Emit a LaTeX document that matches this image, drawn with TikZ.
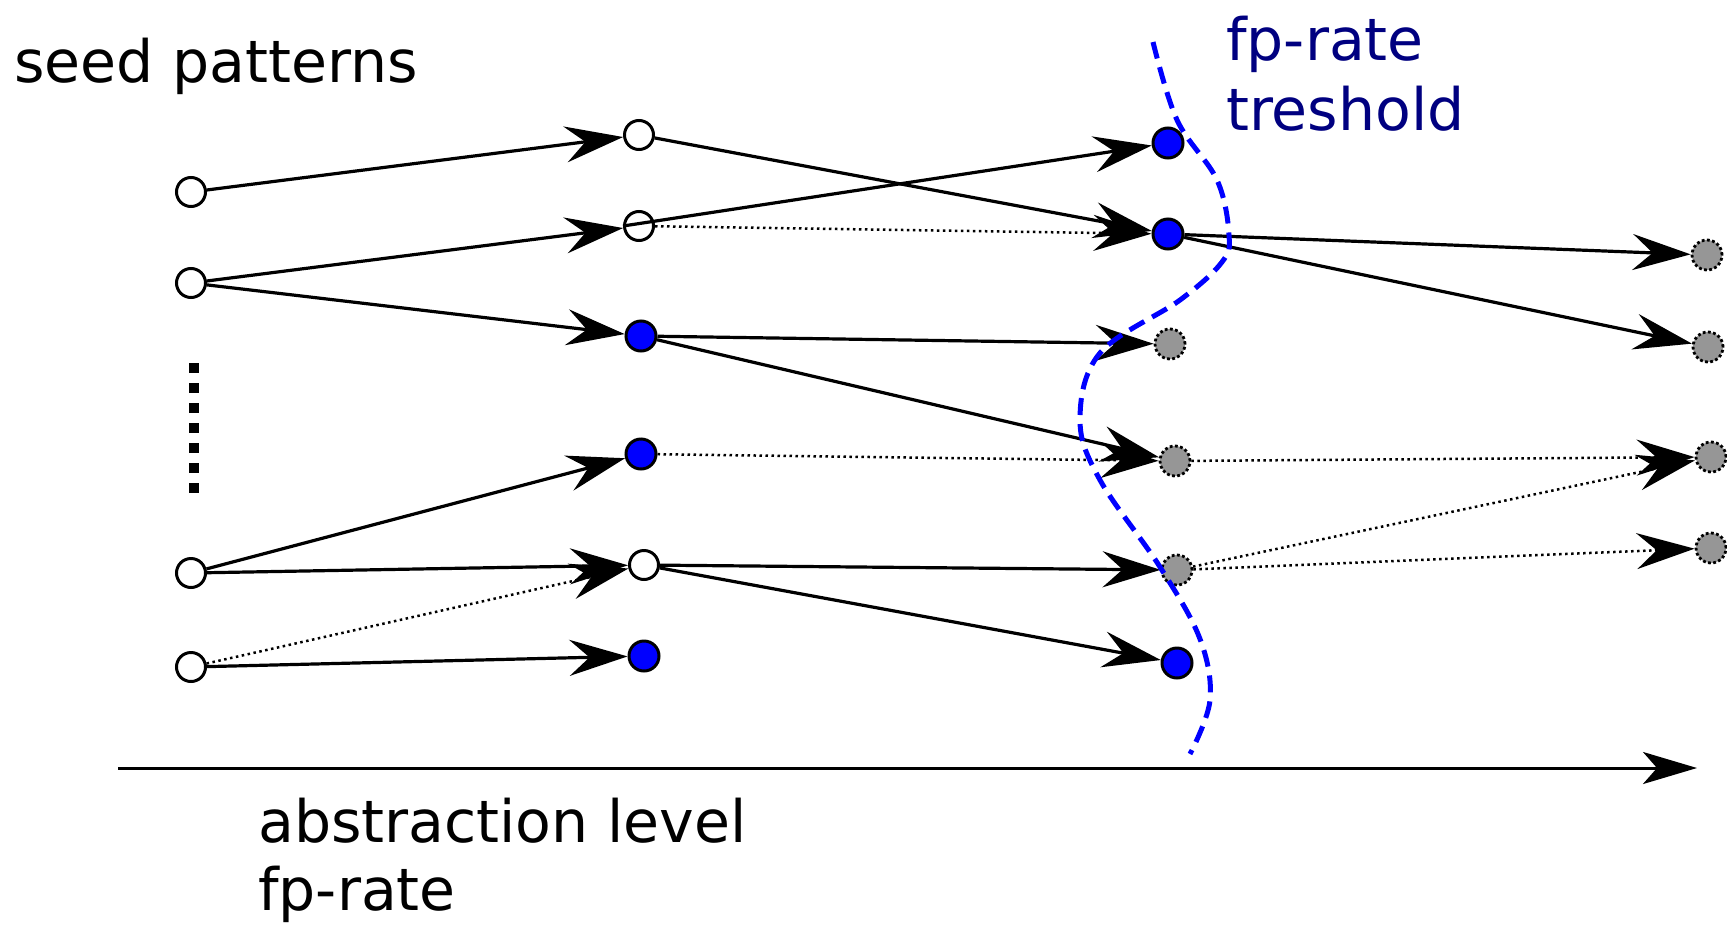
\documentclass[tikz,border=0pt]{standalone}
\usepackage{fontspec}
\setmainfont{DejaVu Sans}
\usetikzlibrary{arrows.meta}
\definecolor{navytext}{RGB}{0,0,128}
\definecolor{greyfill}{RGB}{150,150,150}
\begin{document}
\begin{tikzpicture}[x=1pt,y=-1pt,
  wnode/.style={circle,draw=black,fill=white,line width=3pt,minimum size=29pt,inner sep=0pt},
  bnode/.style={circle,draw=black,fill=blue,line width=3pt,minimum size=30pt,inner sep=0pt},
  gnode/.style={circle,draw=black,fill=greyfill,line width=2.8pt,dash pattern=on 2.8pt off 2.4pt,minimum size=30pt,inner sep=0pt},
  bigtip/.style={-{Stealth[length=58pt,width=36pt,inset=20pt]}},
  solidedge/.style={line width=3.2pt,bigtip},
  dottededge/.style={line width=2.5pt,dash pattern=on 2.5pt off 3.5pt,bigtip},
  lbl/.style={anchor=base west,inner sep=0pt,font=\fontsize{58.5}{70}\selectfont}]
\useasboundingbox (0,0) rectangle (1727,924);
% column 0
\node[wnode] (s1) at (191,192) {};
\node[wnode] (s2) at (191,283) {};
\node[wnode] (s3) at (191,573) {};
\node[wnode] (s4) at (191,667) {};
% column 1
\node[wnode] (a1) at (639,135) {};
\node[wnode] (b1) at (639,226) {};
\node[bnode] (c1) at (641,336) {};
\node[bnode] (d1) at (641,454) {};
\node[wnode] (e1) at (644,565) {};
\node[bnode] (f1) at (644,656) {};
% column 2
\node[bnode] (a2) at (1168,143) {};
\node[bnode] (b2) at (1168,234) {};
\node[gnode] (c2) at (1170,344) {};
\node[gnode] (d2) at (1175,461) {};
\node[gnode] (e2) at (1177,570) {};
\node[bnode] (f2) at (1177,663) {};
% column 3
\node[gnode] (g1) at (1707,255) {};
\node[gnode] (g2) at (1708,347) {};
\node[gnode] (g3) at (1711,457) {};
\node[gnode] (g4) at (1711,548) {};
% edges
\draw[solidedge] (s1) -- (a1);
\draw[solidedge] (s2) -- (b1);
\draw[solidedge] (s2) -- (c1);
\draw[solidedge] (s3) -- (d1);
\draw[solidedge] (s3) -- (e1);
\draw[dottededge] (s4) -- (e1);
\draw[solidedge] (s4) -- (f1);
\draw[solidedge] (a1) -- (b2);
\draw[solidedge] (b1.west) -- (a2);
\draw[dottededge] (b1) -- (b2);
\draw[solidedge] (c1) -- (c2);
\draw[solidedge] (c1) -- (d2);
\draw[dottededge] (d1) -- (d2);
\draw[solidedge] (e1) -- (e2);
\draw[solidedge] (e1) -- (f2);
\draw[solidedge] (b2) -- (g1);
\draw[solidedge] (b2) -- (g2);
\draw[dottededge] (d2) -- (g3);
\draw[dottededge] (e2) -- (g3);
\draw[dottededge] (e2) -- (g4);
% axis
\coordinate (axS) at (118,768);
\coordinate (axE) at (1697,768);
\draw[line width=3pt,-{Stealth[length=54pt,width=32pt,inset=14pt]}] (axS) -- (axE);
% vertical dots
\draw[line width=10pt,dash pattern=on 10pt off 10pt] (194,363) -- (194,493);
% threshold curve
\draw[blue,line width=5pt,dash pattern=on 17pt off 9pt] plot[smooth,tension=0.6] coordinates
 {(1153,42) (1177,120) (1217,180) (1229,235) (1222,262) (1180,300) (1100,353) (1080,420) (1100,480) (1160,567) (1200,639) (1210,700) (1190,754)};
% labels
\node[lbl] (tseed) at (14,82) {seed patterns};
\node[lbl,text=navytext] (tfp1) at (1226,60) {fp-rate};
\node[lbl,text=navytext] (tfp2) at (1226,130) {treshold};
\node[lbl] (tabs) at (258,842) {abstraction level};
\node[lbl] (tfp3) at (258,910) {fp-rate};
\end{tikzpicture}
\end{document}
